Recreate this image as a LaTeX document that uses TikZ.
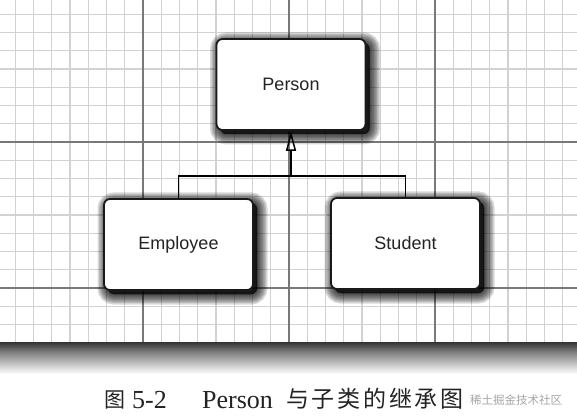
\documentclass[tikz,border=0pt]{standalone}
\usepackage{fontspec}
\setmainfont{Liberation Serif}
\newfontfamily\cjk{Noto Sans CJK SC}
\newfontfamily\sansf{Liberation Sans}
\usetikzlibrary{arrows.meta}
\definecolor{gridlight}{RGB}{210,210,210}
\definecolor{griddark}{RGB}{120,120,120}
\definecolor{inkgray}{RGB}{35,35,35}
\tikzset{
  gridl/.style={draw=gridlight, line width=1.4pt},
  gridd/.style={draw=griddark, line width=1.1pt},
  shadowlayer/.style={preaction={draw=black, fill=black, opacity=0.15, line width=#1,
      transform canvas={xshift=4pt, yshift=-4pt}}},
  classbox/.style={draw=black!90, line width=1.8pt, rounded corners=6pt, fill=white,
    minimum width=149pt, minimum height=91pt, inner sep=0pt,
    font=\sansf\fontsize{18}{20}\selectfont, text=inkgray,
    shadowlayer=21pt, shadowlayer=18pt, shadowlayer=15pt, shadowlayer=12pt, shadowlayer=9pt,
    shadowlayer=6pt, shadowlayer=3pt, shadowlayer=1pt},
  link/.style={draw=black, line width=1.5pt},
  captxt/.style={inner sep=0pt, text=inkgray},
}
\begin{document}
\begin{tikzpicture}[x=1pt,y=-1pt]
\useasboundingbox (0,0) rectangle (577,419);
\fill[white] (0,0) rectangle (577,419);
% grid
\foreach \i in {-7,...,23} \draw[gridl] ({143+18.25*\i},0) -- ({143+18.25*\i},342);
\foreach \j in {-7,...,10} \draw[gridl] (0,{142+18.25*\j}) -- (577,{142+18.25*\j});
\foreach \i in {0,1,2} \draw[gridd] ({143+146*\i},0) -- ({143+146*\i},342);
\foreach \j in {0,1} \draw[gridd] (0,{142+146*\j}) -- (577,{142+146*\j});
% bottom shadow band
\shade[top color=black!80, bottom color=black!50] (0,342) rectangle (577,352);
\shade[top color=black!50, bottom color=white] (0,352) rectangle (577,374);
% classes
\node[classbox] (P) at (291,84.5) {Person};
\node[classbox] (E) at (178.5,244.5) {Employee};
\node[classbox] (S) at (405.5,243.5) {Student};
% connectors
\coordinate (j) at (291,176);
\coordinate (jl) at (E.north |- j);
\coordinate (jr) at (S.north |- j);
\draw[link, -{Triangle[open, length=20pt, width=10pt, line width=1.5pt]}] (j) -- (P.south);
\draw[link] (E.north) -- (jl) -- (jr) -- (S.north);
% caption
\node[captxt, anchor=base west] (c1) at (104,407) {\cjk\fontsize{21}{24}\selectfont 图};
\node[captxt, anchor=base west] (c2) at (132,408) {\fontsize{26}{28}\selectfont 5-2};
\node[captxt, anchor=base west] (c3) at (202,408) {\fontsize{26}{28}\selectfont Person};
\node[captxt, anchor=base west] (c4) at (286,407) {\cjk\addfontfeature{LetterSpace=12}\fontsize{23}{25}\selectfont 与子类的继承图};
\node[inner sep=0pt, anchor=base west, text=black!35] (wm) at (470,404) {\cjk\fontsize{11.5}{12}\selectfont 稀土掘金技术社区};
\end{tikzpicture}
\end{document}
